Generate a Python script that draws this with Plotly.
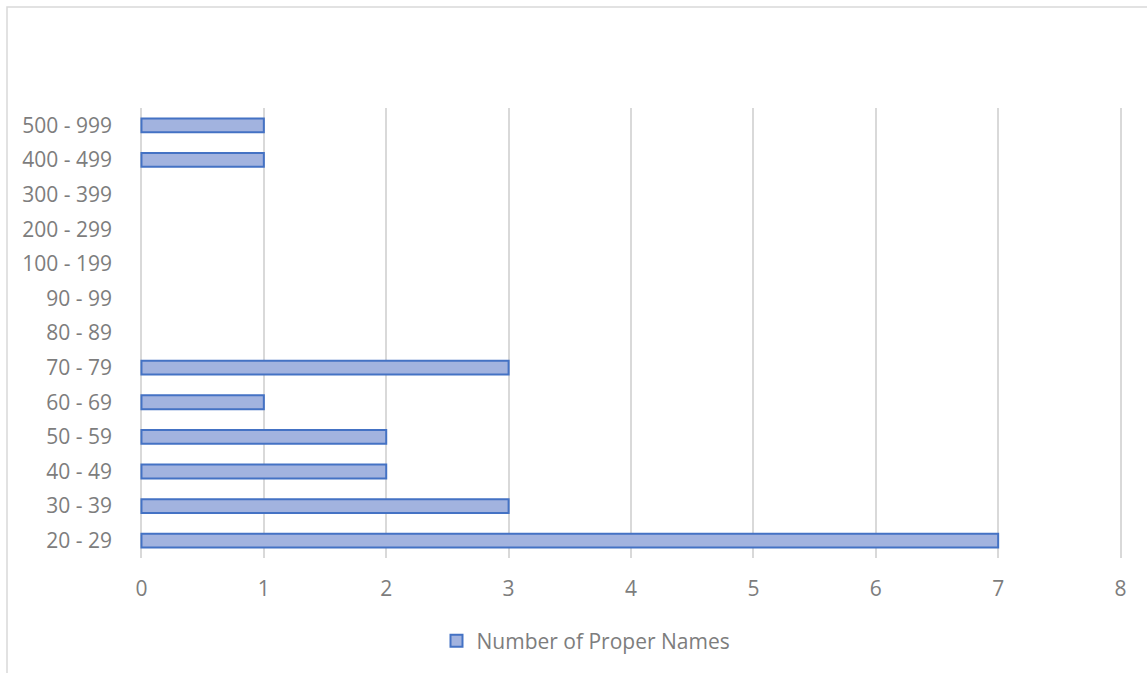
import plotly.graph_objects as go

# Age ranges (bottom to top) and the count of proper names in each
age_ranges = ["20 - 29", "30 - 39", "40 - 49", "50 - 59", "60 - 69", "70 - 79",
              "80 - 89", "90 - 99", "100 - 199", "200 - 299", "300 - 399",
              "400 - 499", "500 - 999"]
name_counts = [7, 3, 2, 2, 1, 3, 0, 0, 0, 0, 0, 1, 1]
x_ticks = [0, 1, 2, 3, 4, 5, 6, 7, 8]

W, H = 1147, 673
pad = 0.02                       # small range padding so edge gridlines are drawn
unit = 980 / 8                   # pixels per count unit
L = round(141 - pad * unit)
R = round(26 - pad * unit)
T, B = 108, 115
pw, ph = W - L - R, H - T - B

# Empty categories get no outline so nothing is drawn for them
outline_widths = [2 if v > 0 else 0 for v in name_counts]

fig = go.Figure()
fig.add_trace(go.Bar(
    y=age_ranges,
    x=name_counts,
    orientation="h",
    name="Number of Proper Names",
    width=0.4,
    marker=dict(color="#a2b3df", line=dict(color="#4472c4", width=outline_widths)),
    showlegend=True,
))

font = dict(family="Open Sans, Lato, sans-serif", size=21, color="#7d7d7d")

fig.update_layout(
    width=W, height=H,
    margin=dict(l=L, r=R, t=T, b=B),
    paper_bgcolor="white",
    plot_bgcolor="white",
    font=font,
    bargap=0.6,
    xaxis=dict(
        range=[-pad, 8 + pad], tickvals=x_ticks, showgrid=True, gridcolor="#d9d9d9",
        gridwidth=2, zeroline=False, showline=False, ticks="",
        ticklabelstandoff=16, tickfont=font, fixedrange=True,
    ),
    yaxis=dict(
        categoryorder="array", categoryarray=age_ranges, showgrid=False,
        zeroline=False, showline=False, ticks="", ticklabelstandoff=26,
        tickfont=font, fixedrange=True,
    ),
    legend=dict(
        orientation="h", x=(586 - L) / pw, xanchor="center", y=(558 - 641) / ph,
        yanchor="middle", font=font, itemwidth=30,
    ),
    shapes=[dict(
        type="rect", xref="paper", yref="paper",
        x0=(7 - L) / pw, x1=1.2, y0=-0.6, y1=1 + (T - 7) / ph,
        line=dict(color="#d9d9d9", width=1.5), fillcolor="rgba(0,0,0,0)",
        layer="below",
    )],
)

fig.write_html("out.html")
